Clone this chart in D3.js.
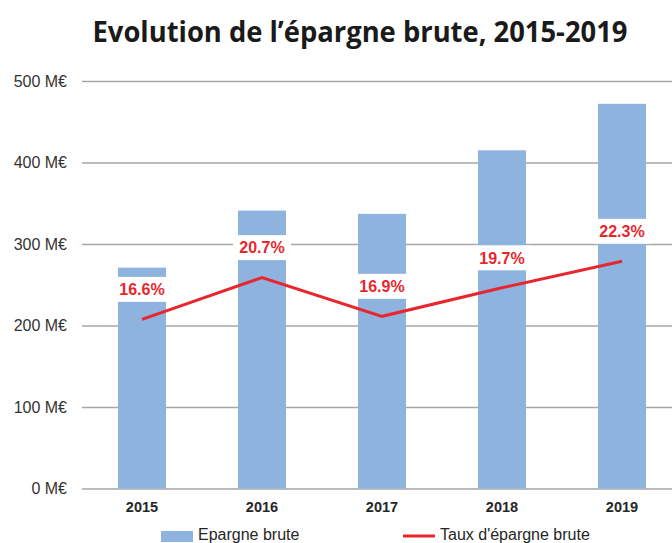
<!DOCTYPE html>
<html>
<head>
<meta charset="utf-8">
<script src="https://cdn.jsdelivr.net/npm/d3@7"></script>
<style>
  body { margin: 0; background: #fff; }
  svg { display: block; }
</style>
</head>
<body>
<svg width="672" height="543"></svg>
<script>
var years = ["2015", "2016", "2017", "2018", "2019"];
var epargne = [271, 341, 337, 415, 472];        // M€
var taux = [16.6, 20.7, 16.9, 19.7, 22.3];       // %
var yTicks = [0, 100, 200, 300, 400, 500];

var svg = d3.select("svg"),
    width = +svg.attr("width"),
    margin = {top: 81, right: 0, bottom: 55, left: 82},
    y0 = 543 - margin.bottom;

var x = d3.scaleBand()
    .domain(years)
    .range([margin.left, margin.left + 600])
    .paddingInner(0.6)
    .paddingOuter(0.3);

var y = d3.scaleLinear().domain([0, 500]).range([y0 + 0.5, margin.top]);
var y2 = d3.scaleLinear().domain([0, 40]).range([y0 + 0.5, margin.top]);

svg.append("text")
    .attr("x", 360).attr("y", 42)
    .attr("text-anchor", "middle")
    .attr("textLength", 535).attr("lengthAdjust", "spacingAndGlyphs")
    .style("font-family", "'Open Sans', sans-serif")
    .style("font-weight", "bold")
    .style("font-size", "28px")
    .style("fill", "#1a1a1a")
    .text("Evolution de l\u2019\u00e9pargne brute, 2015-2019");

// grid + y labels
var grid = svg.append("g")
    .attr("transform", "translate(" + margin.left + ",0)")
    .call(d3.axisLeft(y).tickValues(yTicks).tickSize(-(width - margin.left)).tickPadding(15)
      .tickFormat(function(d) { return d + " M\u20ac"; }));
grid.select(".domain").remove();
grid.selectAll("line").attr("stroke", "#a6a6a6").attr("stroke-width", 1.6);
grid.selectAll("text")
    .style("font-family", "'Liberation Sans', Arial, sans-serif")
    .style("font-size", "16px")
    .style("fill", "#333");

// bars
svg.append("g").selectAll("rect")
  .data(epargne)
  .enter().append("rect")
    .attr("x", function(d, i) { return x(years[i]); })
    .attr("y", function(d) { return y(d); })
    .attr("width", x.bandwidth())
    .attr("height", function(d) { return y(0) - y(d); })
    .style("fill", "#8eb3de");

// x labels
svg.append("g").selectAll("text")
  .data(years)
  .enter().append("text")
    .attr("x", function(d) { return x(d) + x.bandwidth() / 2; })
    .attr("y", 512)
    .attr("text-anchor", "middle")
    .style("font-family", "'Liberation Sans', Arial, sans-serif")
    .style("font-weight", "bold")
    .style("font-size", "14.5px")
    .style("fill", "#262626")
    .text(function(d) { return d; });

// rate line
var line = d3.line()
    .x(function(d, i) { return x(years[i]) + x.bandwidth() / 2; })
    .y(function(d) { return y2(d); });

svg.append("path")
    .datum(taux)
    .attr("d", line)
    .attr("fill", "none")
    .attr("stroke", "#e8262d")
    .attr("stroke-width", 3);

// rate labels with white boxes
var lab = svg.append("g").selectAll("g")
  .data(taux)
  .enter().append("g")
    .attr("transform", function(d, i) {
      return "translate(" + (x(years[i]) + x.bandwidth() / 2) + "," + (y2(d) - 30) + ")";
    });

lab.append("rect")
    .attr("x", -29).attr("y", -12.5)
    .attr("width", 58).attr("height", 25)
    .style("fill", "#fff");

lab.append("text")
    .attr("text-anchor", "middle")
    .attr("dy", "0.36em")
    .style("font-family", "'Liberation Sans', Arial, sans-serif")
    .style("font-weight", "bold")
    .style("font-size", "16px")
    .style("fill", "#e8262d")
    .text(function(d) { return d.toFixed(1) + "%"; });

// legend
var legend = svg.append("g");
legend.append("rect")
    .attr("x", 161).attr("y", 531).attr("width", 32).attr("height", 11)
    .style("fill", "#8eb3de");
legend.append("text")
    .attr("x", 198).attr("y", 540)
    .style("font-family", "'Liberation Sans', Arial, sans-serif")
    .style("font-size", "16px")
    .style("fill", "#262626")
    .text("Epargne brute");
legend.append("line")
    .attr("x1", 403).attr("x2", 435).attr("y1", 536).attr("y2", 536)
    .attr("stroke", "#e8262d").attr("stroke-width", 3);
legend.append("text")
    .attr("x", 440).attr("y", 540)
    .style("font-family", "'Liberation Sans', Arial, sans-serif")
    .style("font-size", "16px")
    .style("fill", "#262626")
    .text("Taux d'\u00e9pargne brute");
</script>
</body>
</html>
